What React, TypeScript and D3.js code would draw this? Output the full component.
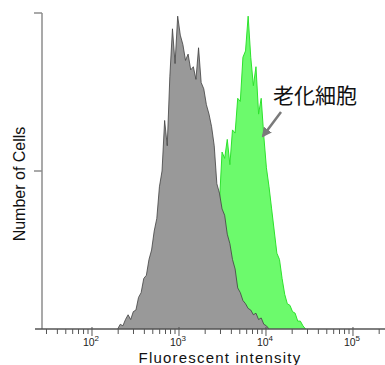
import React from 'react';
import * as d3 from 'd3';

// histogram bins on a log axis, 0.03 decade wide
const binStartExp = 2.28;
const binStep = 0.03;

// control cells (gray)
const grayCounts = [
	0, 1.5, 1, 3, 4.5, 3, 5.5, 6, 10, 11.5, 16, 17, 22, 25, 31, 35, 45, 50, 66, 58,
	80, 95, 84, 99, 93, 90, 85, 87, 82, 83, 79, 89, 78, 76, 71, 68, 64, 58, 46, 43,
	38, 36, 30, 27, 22, 19, 13, 11.5, 9, 8, 6.5, 6, 4.5, 5, 3, 3.5, 1.5, 1, 0,
];

// senescent cells (green), first bin at binStartExp + 38 * binStep
const greenFirstBin = 38;
const greenCounts = [
	30, 40, 56, 54, 60, 52, 63, 62, 73, 72, 86, 88, 99, 86, 77, 83, 68, 73, 61, 51,
	45, 38, 31, 24, 22, 16, 11, 8, 7.5, 5.5, 5, 2.5, 2.5, 1, 0,
];

const majorTicks = [100, 1000, 10000, 100000];
const majorExponents = ['2', '3', '4', '5'];

const yTicks = [50, 100];

const W = 385;
const H = 365;

function binPoints(counts, firstBin) {
	return counts.map((c, i) => [Math.pow(10, binStartExp + (firstBin + i + 0.5) * binStep), c]);
}

export default function App() {
	const x = d3
		.scaleLog()
		.domain([Math.pow(10, 1.345), Math.pow(10, 5.368)])
		.range([35, 385]);
	const y = d3.scaleLinear().domain([0, 100]).range([329, 13]);

	const area = d3
		.area()
		.x(d => x(d[0]))
		.y0(y(0))
		.y1(d => y(d[1]));
	const line = d3
		.line()
		.x(d => x(d[0]))
		.y(d => y(d[1]));

	const grayPts = binPoints(grayCounts, 0);
	const greenPts = binPoints(greenCounts, greenFirstBin);

	const allTicks = x.ticks().filter(t => x(t) >= 36 && x(t) <= 384);
	const isMajor = t => majorTicks.includes(t);

	return (
		<svg width={W} height={H} style={{ position: 'absolute', left: 0, top: 0, background: '#fff' }}>
			{/* green behind gray */}
			<path d={area(greenPts)} fill="#6cfa6c" />
			<path d={line(greenPts)} fill="none" stroke="#2ee22e" strokeWidth={1} />
			<path d={area(grayPts)} fill="#999" />
			<path d={line(grayPts)} fill="none" stroke="#404040" strokeWidth={0.8} />

			{/* y axis */}
			<line x1={42} x2={42} y1={y(100)} y2={y(0)} stroke="#8c8c8c" strokeWidth={1.5} />
			{yTicks.map(t => (
				<line key={t} x1={34} x2={42} y1={y(t)} y2={y(t)} stroke="#8c8c8c" strokeWidth={1.5} />
			))}

			{/* x axis */}
			<line x1={35} x2={385} y1={y(0)} y2={y(0)} stroke="#555" strokeWidth={1.3} />
			{allTicks.map((t, i) => (
				<line
					key={i}
					x1={x(t)}
					x2={x(t)}
					y1={y(0) - (isMajor(t) ? 2 : 0)}
					y2={y(0) + (isMajor(t) ? 7 : 5)}
					stroke="#555"
					strokeWidth={1}
				/>
			))}
			{majorTicks.map((t, i) => (
				<text
					key={t}
					x={x(t) - 1}
					y={346}
					textAnchor="middle"
					fontFamily="'Liberation Sans', Arial, sans-serif"
					fontSize={10.5}
					fill="#222"
				>
					10
					<tspan dy={-5} fontSize={8}>
						{majorExponents[i]}
					</tspan>
				</text>
			))}

			<text
				x={220}
				y={363}
				textAnchor="middle"
				fontFamily="'Liberation Sans', Arial, sans-serif"
				fontSize={15}
				letterSpacing={1.2}
				fill="#111"
			>
				Fluorescent intensity
			</text>
			<text
				transform="translate(25,184) rotate(-90)"
				textAnchor="middle"
				fontFamily="'Liberation Sans', Arial, sans-serif"
				fontSize={16}
				fill="#111"
			>
				Number of Cells
			</text>

			{/* annotation */}
			<defs>
				<marker id="ah" viewBox="0 0 10 10" refX={8} refY={5} markerWidth={4} markerHeight={4} orient="auto">
					<path d="M0,0 L10,5 L0,10 z" fill="#7a7a7a" />
				</marker>
			</defs>
			<line x1={281} y1={112} x2={263} y2={136} stroke="#7a7a7a" strokeWidth={2.5} markerEnd="url(#ah)" />
			<text x={273} y={103} fontFamily="'Noto Sans CJK JP', sans-serif" fontSize={21} fill="#111">
				老化細胞
			</text>
		</svg>
	);
}
